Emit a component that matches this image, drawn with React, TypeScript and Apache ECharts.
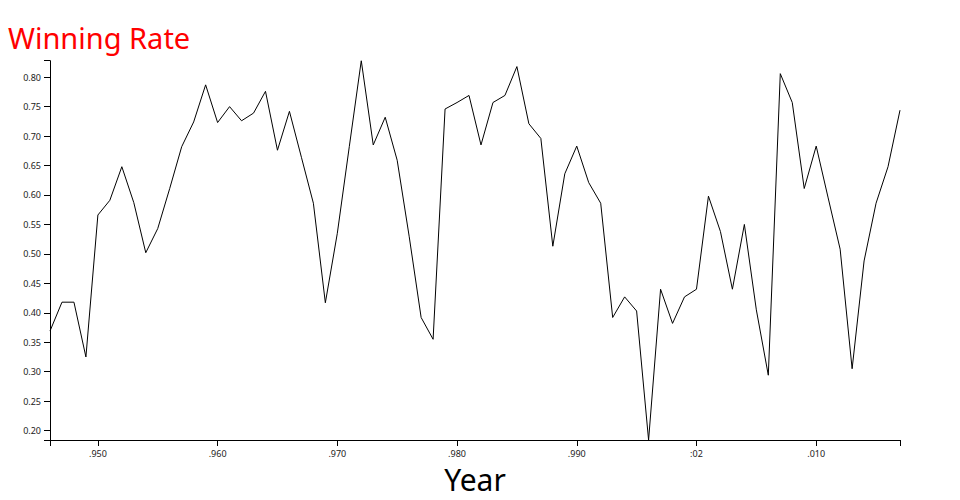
import React, { useEffect, useRef } from "react";
import * as echarts from "echarts";

const years: number[] = [];
for (let y = 1946; y <= 2017; y++) years.push(y);

const winningRate = [
  0.369, 0.418, 0.418, 0.325, 0.566, 0.591, 0.648, 0.587, 0.502, 0.543,
  0.611, 0.682, 0.724, 0.787, 0.723, 0.750, 0.726, 0.739, 0.776, 0.676,
  0.742, 0.664, 0.586, 0.417, 0.535, 0.682, 0.828, 0.685, 0.732, 0.659,
  0.530, 0.392, 0.355, 0.746, 0.757, 0.769, 0.685, 0.757, 0.769, 0.818,
  0.721, 0.696, 0.513, 0.636, 0.683, 0.621, 0.586, 0.392, 0.427, 0.403,
  0.184, 0.440, 0.382, 0.427, 0.440, 0.598, 0.538, 0.440, 0.550, 0.405,
  0.294, 0.806, 0.757, 0.611, 0.683, 0.595, 0.508, 0.305, 0.488, 0.586,
  0.648, 0.744,
];

const xTickYears = [1950, 1960, 1970, 1980, 1990, 2000, 2010];
const xTickLabels = [".950", ".960", ".970", ".980", ".990", ":02", ".010"];

const yTickValues = [0.2, 0.25, 0.3, 0.35, 0.4, 0.45, 0.5, 0.55, 0.6, 0.65, 0.7, 0.75, 0.8];

const FONT = "Noto Sans";

export default function App() {
  const ref = useRef<HTMLDivElement>(null);
  useEffect(() => {
    if (!ref.current) return;
    const chart = echarts.init(ref.current, null, { renderer: "svg" });
    const xMin = years[0];
    const xMax = years[years.length - 1];
    const yMin = Math.min(...winningRate);
    const yMax = Math.max(...winningRate);
    chart.setOption({
      animation: false,
      title: {
        text: "Winning Rate",
        left: 8,
        top: 22.5,
        padding: 0,
        textStyle: { color: "#ff0000", fontSize: 29, fontWeight: "normal", fontFamily: FONT },
      },
      grid: { left: 50, right: 60, top: 60.7, bottom: 60 },
      xAxis: {
        type: "value",
        min: xMin,
        max: xMax,
        name: "Year",
        nameLocation: "middle",
        nameGap: 24,
        nameTextStyle: { color: "#000", fontSize: 30, fontFamily: FONT },
        splitLine: { show: false },
        axisLine: { lineStyle: { color: "#000", width: 1 } },
        axisTick: {
          length: 6,
          lineStyle: { color: "#000", width: 1 },
          customValues: [xMin, ...xTickYears, xMax],
        },
        axisLabel: {
          margin: 9,
          fontSize: 9,
          color: "#222",
          fontFamily: FONT,
          customValues: xTickYears,
          formatter: (v: number) => {
            const i = xTickYears.indexOf(Math.round(v));
            return i >= 0 ? xTickLabels[i] : "";
          },
        },
      },
      yAxis: {
        type: "value",
        min: yMin,
        max: yMax,
        splitLine: { show: false },
        axisLine: { show: true, lineStyle: { color: "#000", width: 1 } },
        axisTick: {
          show: true,
          length: 6,
          lineStyle: { color: "#000", width: 1 },
          customValues: [yMin, ...yTickValues, yMax],
        },
        axisLabel: {
          margin: 9,
          fontSize: 9,
          color: "#222",
          fontFamily: FONT,
          customValues: yTickValues,
          formatter: (v: number) => v.toFixed(2),
        },
      },
      series: [
        {
          type: "line",
          data: years.map((y, i) => [y, winningRate[i]]),
          showSymbol: false,
          symbol: "none",
          lineStyle: { color: "#000", width: 1 },
        },
      ],
    });
    return () => chart.dispose();
  }, []);
  return (
    <div
      ref={ref}
      style={{ position: "fixed", left: 0, top: 0, width: 960, height: 500, background: "#fff" }}
    />
  );
}
